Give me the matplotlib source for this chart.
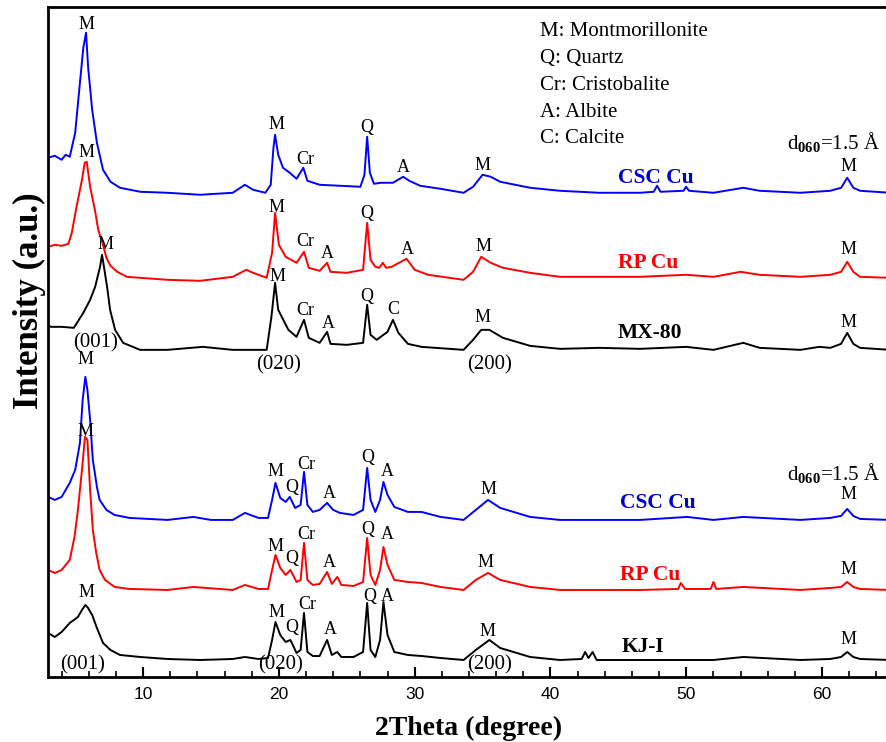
import matplotlib
matplotlib.use("Agg")
import matplotlib.pyplot as plt
from matplotlib.ticker import MultipleLocator
import numpy as np

# XRD patterns: 2theta (deg) and intensity above each baseline (a.u.)
top_csc_tt = [3.0, 3.5, 4.0, 4.3, 4.6, 5.0, 5.35, 5.6, 5.8, 5.95, 6.25, 6.6, 7.05, 7.6, 8.3, 9.8,
              11.8, 14.2, 16.6, 17.5, 18.1, 19.0, 19.4, 19.6, 19.72, 19.95, 20.3, 20.8, 21.3, 21.8,
              22.1, 23.0, 24.5, 26.0, 26.3, 26.5, 26.7, 27.0, 27.5, 28.4, 29.15, 29.6, 30.4, 31.9,
              33.6, 34.3, 35.0, 35.6, 36.3, 38.5, 40.7, 43.6, 46.6, 47.6, 47.85, 48.1, 49.8, 49.98,
              50.2, 52.0, 54.2, 55.4, 58.4, 60.6, 61.4, 61.85, 62.3, 62.8, 65.0]
top_csc_int = [35, 37, 33, 38, 36, 60, 110, 145, 160, 126, 83, 50, 23, 11, 5, 1,
               0, -2, 0, 8, 3, 0, 8, 45, 58, 38, 25, 20, 14, 25,
               12, 8, 7, 6, 18, 56, 20, 9, 10, 10, 16, 12, 7, 4,
               0, 6, 18, 16, 11, 5, 2, 0, 0, 1, 7, 1, 2, 6,
               2, 0, 5, 2, 0, 2, 5, 15, 5, 2, 0]

top_rp_tt = [3.0, 3.5, 4.0, 4.5, 4.75, 5.1, 5.5, 5.7, 5.85, 6.1, 6.45, 6.7, 7.05, 7.3, 7.6, 8.1,
             8.8, 11.8, 14.2, 16.6, 17.6, 18.1, 19.1, 19.5, 19.72, 20.0, 20.5, 21.3, 21.85, 22.2,
             23.0, 23.55, 23.8, 25.0, 26.2, 26.5, 26.75, 27.1, 27.4, 27.65, 27.9, 28.3, 29.4, 30.0,
             31.0, 33.6, 34.3, 34.9, 35.6, 36.5, 38.5, 40.7, 43.6, 46.6, 49.98, 52.0, 54.0, 55.4,
             58.4, 60.6, 61.4, 61.85, 62.3, 62.8, 65.0]
top_rp_int = [33, 35, 34, 36, 47, 73, 100, 117, 118, 93, 70, 50, 35, 22, 14, 8,
              3, 0, -1, 3, 10, 7, 2, 27, 67, 35, 23, 17, 28, 12,
              9, 17, 8, 7, 10, 57, 20, 13, 12, 17, 12, 13, 21, 10,
              5, 0, 8, 23, 17, 12, 7, 3, 3, 3, 5, 3, 8, 5,
              3, 5, 8, 18, 8, 3, 2]

mx80_tt = [3.0, 3.2, 4.0, 4.9, 5.6, 6.1, 6.47, 6.83, 6.98, 7.35, 7.57, 7.94, 8.53, 9.78, 11.8,
           14.4, 16.6, 19.1, 19.45, 19.72, 19.95, 20.7, 21.3, 21.85, 22.2, 23.0, 23.55, 23.8, 25.0,
           26.2, 26.5, 26.75, 27.2, 28.0, 28.4, 28.8, 29.5, 30.5, 33.6, 34.3, 34.9, 35.5, 36.5,
           38.5, 40.7, 43.6, 46.6, 49.98, 52.0, 54.2, 55.4, 58.4, 59.8, 60.6, 61.4, 61.85, 62.3,
           62.8, 65.0]
mx80_int = [25, 23, 23, 22, 37, 50, 63, 83, 95, 63, 40, 20, 7, 0, 0,
            3, 0, 0, 33, 67, 40, 20, 13, 30, 12, 7, 18, 6, 5,
            7, 45, 15, 10, 18, 30, 17, 6, 3, 0, 10, 20, 20, 12,
            4, 1, 2, 1, 3, 0, 7, 2, 0, 3, 2, 6, 17, 6,
            2, 0]

bot_csc_tt = [3.0, 3.5, 4.0, 4.6, 5.0, 5.35, 5.55, 5.75, 5.9, 6.1, 6.3, 6.6, 6.8, 7.3, 7.9, 9.0,
              11.8, 13.7, 15.0, 16.6, 17.5, 18.5, 19.2, 19.5, 19.75, 20.1, 20.5, 20.8, 21.2, 21.6,
              21.85, 22.1, 22.5, 23.0, 23.55, 24.0, 24.5, 25.5, 26.2, 26.5, 26.75, 27.1, 27.45,
              27.7, 28.0, 28.5, 29.5, 30.5, 31.9, 33.6, 34.5, 35.4, 36.3, 38.5, 40.7, 43.6, 46.6,
              50.06, 52.0, 54.2, 58.4, 60.6, 61.4, 61.85, 62.3, 62.8, 65.0]
bot_csc_int = [23, 20, 23, 37, 50, 77, 120, 143, 130, 100, 60, 33, 20, 10, 5, 2,
               0, 3, 0, 0, 7, 2, 2, 20, 37, 22, 18, 23, 12, 15,
               48, 15, 8, 10, 17, 10, 7, 5, 10, 52, 20, 8, 20,
               38, 25, 13, 8, 8, 3, 0, 10, 20, 12, 3, 0, 0, 0,
               3, 0, 3, 0, 2, 4, 11, 4, 1, 0]

bot_rp_tt = [3.0, 3.5, 4.0, 4.6, 4.95, 5.2, 5.5, 5.72, 5.9, 6.1, 6.3, 6.55, 6.8, 7.2, 7.9, 9.0,
             11.8, 13.7, 16.6, 17.5, 18.5, 19.2, 19.5, 19.75, 20.1, 20.5, 20.85, 21.3, 21.6, 21.85,
             22.1, 22.5, 23.0, 23.55, 23.9, 24.3, 24.6, 25.5, 26.2, 26.5, 26.75, 27.1, 27.45, 27.7,
             28.0, 28.5, 29.5, 30.5, 31.9, 33.6, 34.5, 35.4, 36.3, 38.5, 40.7, 43.6, 46.6, 49.4,
             49.6, 49.9, 51.8, 52.0, 52.2, 54.2, 58.4, 60.6, 61.4, 61.85, 62.3, 62.8, 65.0]
bot_rp_int = [20, 17, 20, 30, 53, 80, 120, 153, 150, 100, 60, 37, 20, 10, 3, 1,
              0, 3, 0, 5, 1, 1, 20, 35, 22, 15, 20, 8, 10, 47,
              10, 5, 6, 18, 6, 13, 5, 4, 8, 52, 15, 5, 20, 43,
              25, 10, 8, 7, 3, 0, 10, 17, 10, 3, 0, 0, 0, 1,
              7, 1, 1, 8, 1, 3, 0, 2, 3, 8, 3, 1, 0]

kj1_tt = [3.0, 3.5, 4.0, 4.6, 5.2, 5.5, 5.75, 5.95, 6.25, 6.6, 7.05, 7.6, 8.3, 9.8, 11.8, 14.2,
          16.6, 17.5, 18.5, 19.2, 19.5, 19.75, 20.1, 20.5, 20.85, 21.3, 21.6, 21.85, 22.1, 22.5,
          23.0, 23.55, 23.9, 24.3, 24.6, 25.5, 26.2, 26.5, 26.75, 27.1, 27.45, 27.7, 28.0, 28.5,
          29.5, 30.5, 31.9, 33.6, 34.5, 35.5, 36.3, 38.5, 40.7, 42.3, 42.55, 42.8, 43.1, 43.4,
          46.6, 49.8, 52.0, 54.2, 58.4, 60.6, 61.4, 61.85, 62.3, 62.8, 65.0]
kj1_int = [27, 23, 28, 37, 43, 50, 55, 52, 45, 32, 17, 10, 5, 3, 1, 0,
           1, 3, 1, 2, 20, 38, 25, 18, 20, 7, 10, 47, 8, 4,
           4, 20, 5, 8, 3, 3, 8, 57, 10, 3, 20, 58, 25, 8,
           5, 4, 2, 0, 10, 20, 12, 3, 0, 1, 8, 2, 8, 0,
           0, 0, 0, 3, 0, 1, 3, 8, 3, 1, 0]

# vertical offsets of the stacked patterns
offsets = [484, 397, 327, 157, 87, 17]
names = ["CSC Cu", "RP Cu", "MX-80", "CSC Cu", "RP Cu", "KJ-I"]

legend_lines = ["M: Montmorillonite", "Q: Quartz", "Cr: Cristobalite", "A: Albite", "C: Calcite"]

# peak labels per pattern: (2theta, height, text)
top_csc_labels = [(5.80, 652, "M"), (19.79, 552, "M"), (21.93, 517, "Cr"), (26.49, 549, "Q"),
                  (29.15, 509, "A"), (34.96, 511, "M"), (61.91, 510, "M")]
top_rp_labels = [(5.80, 524, "M"), (19.79, 469, "M"), (21.93, 435, "Cr"), (23.55, 423, "A"),
                 (26.49, 463, "Q"), (29.44, 427, "A"), (35.04, 430, "M"), (61.91, 427, "M")]
mx80_labels = [(7.20, 432, "M"), (19.87, 400, "M"), (21.93, 366, "Cr"), (23.62, 353, "A"),
               (26.49, 380, "Q"), (28.41, 367, "C"), (34.96, 359, "M"), (61.91, 354, "M")]
bot_csc_labels = [(5.73, 317, "M"), (19.72, 205, "M"), (20.97, 189, "Q"), (22.00, 212, "Cr"),
                  (23.70, 183, "A"), (26.57, 219, "Q"), (27.97, 205, "A"), (35.40, 187, "M"),
                  (61.91, 182, "M")]
bot_rp_labels = [(5.73, 245, "M"), (19.72, 130, "M"), (20.97, 118, "Q"), (22.00, 142, "Cr"),
                 (23.70, 114, "A"), (26.57, 147, "Q"), (27.97, 142, "A"), (35.18, 114, "M"),
                 (61.91, 107, "M")]
kj1_labels = [(5.80, 84, "M"), (19.79, 64, "M"), (20.97, 49, "Q"), (22.08, 72, "Cr"),
              (23.77, 47, "A"), (26.72, 80, "Q"), (27.97, 80, "A"), (35.33, 45, "M"),
              (61.91, 37, "M")]
hkl_labels = [(6.47, 334, "(001)"), (19.94, 312, "(020)"), (35.55, 312, "(200)"),
              (5.58, 12, "(001)"), (20.09, 12, "(020)"), (35.55, 12, "(200)")]

plt.rcParams["mathtext.fontset"] = "custom"
plt.rcParams["mathtext.rm"] = "Liberation Serif"
plt.rcParams["mathtext.bf"] = "Liberation Serif:bold"

serif = "Liberation Serif"
line_colors = ["#0000ff", "#ff0000", "#000000", "#0000ff", "#ff0000", "#000000"]
text_colors = ["#0000cc", "#ff0000", "#000000", "#0000cc", "#ff0000", "#000000"]

fig = plt.figure(figsize=(8.86, 7.42), dpi=100)
ax = fig.add_axes([0.0542, 0.0876, 0.9503, 0.9023])

patterns = [(top_csc_tt, top_csc_int), (top_rp_tt, top_rp_int), (mx80_tt, mx80_int),
            (bot_csc_tt, bot_csc_int), (bot_rp_tt, bot_rp_int), (kj1_tt, kj1_int)]
for (tt, inten), off, c in zip(patterns, offsets, line_colors):
    ax.plot(tt, np.array(inten) + off, color=c, lw=1.4)

# peak assignments
for labels in [top_csc_labels, top_rp_labels, mx80_labels, bot_csc_labels, bot_rp_labels, kj1_labels]:
    for x, y, t in labels:
        ax.text(x, y, t, ha="center", va="center", fontsize=13, family=serif)
for x, y, t in hkl_labels:
    ax.text(x, y, t, ha="center", va="center", fontsize=15, family=serif)

# sample names
name_pos = [(44.98, 499), (44.98, 414), (44.98, 344), (45.13, 174), (45.13, 102), (45.27, 30)]
for (x, y), n, c in zip(name_pos, names, text_colors):
    ax.text(x, y, n, ha="left", va="center", fontsize=15.5, family=serif,
            fontweight="bold", color=c)

# phase key
for i, s in enumerate(legend_lines):
    ax.text(39.23, 645 - 26.8 * i, s, ha="left", va="center", fontsize=15, family=serif)

for y in [527, 197]:
    ax.text(57.42, y, r"d$_{\mathbf{060}}$=1.5 Å", ha="left", va="baseline",
            fontsize=15, family=serif)

ax.set_xlim(3, 65)
ax.set_ylim(0, 669.2)
ax.set_yticks([])
ax.xaxis.set_major_locator(MultipleLocator(10))
ax.xaxis.set_minor_locator(MultipleLocator(2))
ax.tick_params(axis="x", which="major", direction="in", length=7, width=1.5,
               labelsize=12.5, pad=7)
ax.tick_params(axis="x", which="minor", direction="in", length=4, width=1.2)
for lab in ax.get_xticklabels():
    lab.set_family("Liberation Sans")
for sp in ax.spines.values():
    sp.set_linewidth(2)

ax.set_xlabel("2Theta (degree)", fontsize=20, fontweight="bold", family=serif, labelpad=10)
ax.set_ylabel("Intensity (a.u.)", fontsize=25, fontweight="bold", family=serif, va="center")
ax.yaxis.set_label_coords(-0.0215, 0.562)

fig.savefig("out.png", dpi=100)
